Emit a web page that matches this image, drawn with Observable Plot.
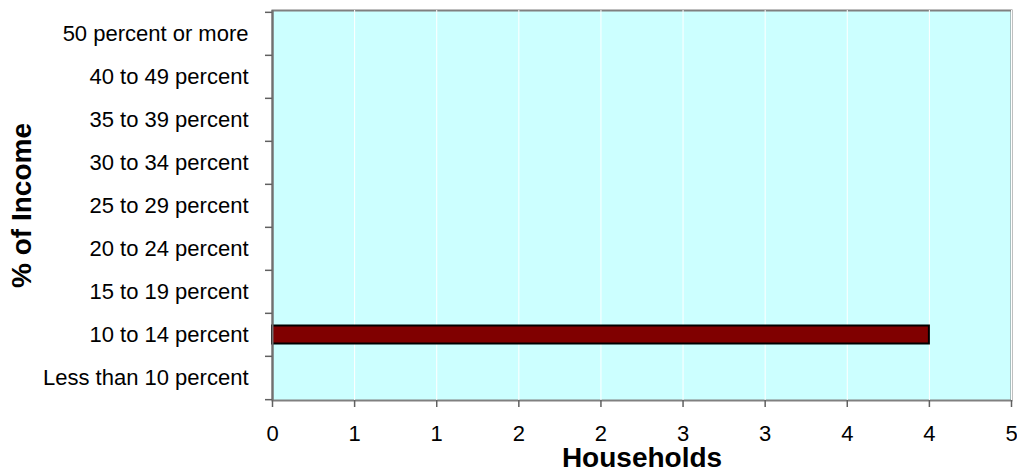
<!DOCTYPE html>
<html>
<head>
<meta charset="utf-8">
<script src="https://cdn.jsdelivr.net/npm/d3@7"></script>
<script src="https://cdn.jsdelivr.net/npm/@observablehq/plot@0.6"></script>
<style>
  html, body { margin: 0; padding: 0; background: #fff; }
  #chart { width: 1017px; height: 469px; }
</style>
</head>
<body>
<div id="chart"></div>
<script>
const categories = [
  "50 percent or more",
  "40 to 49 percent",
  "35 to 39 percent",
  "30 to 34 percent",
  "25 to 29 percent",
  "20 to 24 percent",
  "15 to 19 percent",
  "10 to 14 percent",
  "Less than 10 percent"
];
const households = [0, 0, 0, 0, 0, 0, 0, 4, 0];
const xTicks = [0, 0.5, 1, 1.5, 2, 2.5, 3, 3.5, 4, 4.5];

const data = categories.map((c, i) => ({category: c, value: households[i]}));

const W = 1017, H = 469;
const mTop = 10, mBottom = 69, mLeft = 272, mRight = 6;
const band = (H - mTop - mBottom) / categories.length;

const chart = Plot.plot({
  width: W,
  height: H,
  marginTop: mTop,
  marginBottom: mBottom,
  marginLeft: mLeft,
  marginRight: mRight,
  style: {fontFamily: "'Liberation Sans', Arial, sans-serif", fontSize: "22px", color: "#000", background: "#fff", overflow: "visible"},
  x: {domain: [0, 4.5]},
  y: {domain: categories, padding: 0},
  marks: [
    Plot.frame({fill: "#CCFFFF", stroke: "#808080", strokeWidth: 2}),
    Plot.gridX(xTicks, {stroke: "white", strokeOpacity: 1, strokeWidth: 1}),
    Plot.rectX(data.filter(d => d.value > 0), {
      x: "value", y: "category",
      fill: "#800000", stroke: "#000", strokeWidth: 2,
      insetTop: 12.5, insetBottom: 12.5
    }),
    // left axis line
    Plot.ruleX([0], {stroke: "#707070", strokeWidth: 2}),
    // category boundary ticks
    Plot.ruleY(categories, {y: d => d, dy: -band / 2, x1: 0, x2: 0, insetLeft: -7, stroke: "#606060", strokeWidth: 1.5}),
    Plot.ruleY([categories[categories.length - 1]], {y: d => d, dy: band / 2, x1: 0, x2: 0, insetLeft: -7, stroke: "#606060", strokeWidth: 1.5}),
    Plot.axisX({
      ticks: xTicks, tickFormat: d => Math.round(d),
      tickSize: 7, tickPadding: 18, stroke: "#606060", strokeWidth: 1.5,
      fontSize: 22, label: null
    }),
    Plot.axisY({tickSize: 0, tickPadding: 24, fontSize: 22, label: null}),
    Plot.text(["Households"], {frameAnchor: "bottom", lineAnchor: "middle", dy: 58, fontWeight: "bold", fontSize: 28, fill: "#000"}),
    Plot.text(["% of Income"], {frameAnchor: "left", textAnchor: "middle", lineAnchor: "middle", dx: -250, rotate: -90, fontWeight: "bold", fontSize: 28, fill: "#000"})
  ]
});
document.getElementById("chart").appendChild(chart);
</script>
</body>
</html>
